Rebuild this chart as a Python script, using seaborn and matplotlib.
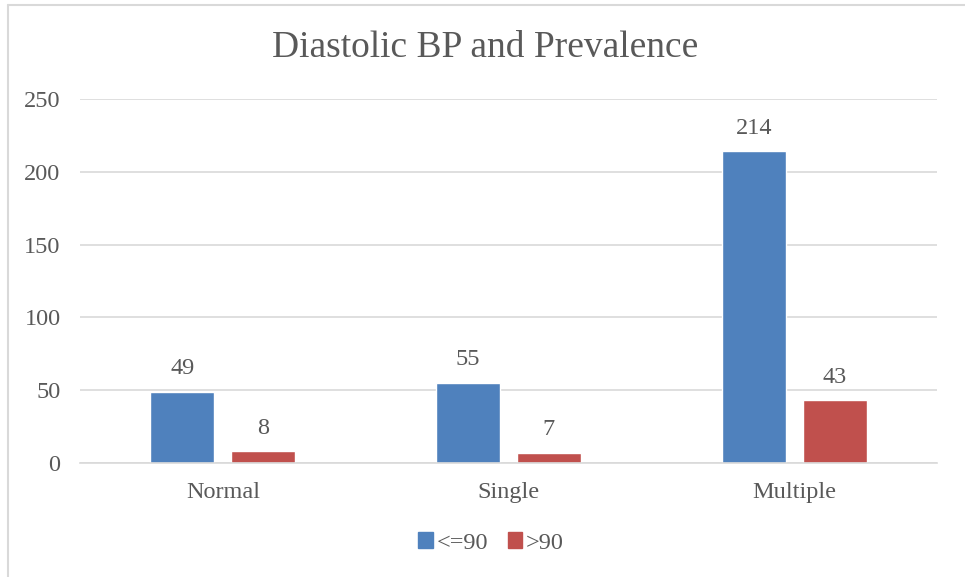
import matplotlib
matplotlib.use('Agg')
import matplotlib.pyplot as plt
from matplotlib.lines import Line2D
import pandas as pd
import seaborn as sns

# chart data
categories = ['Normal', 'Single', 'Multiple']
groups = ['<=90', '>90']
le_90 = [49, 55, 214]
gt_90 = [8, 7, 43]

df = pd.DataFrame({
    'category': categories * 2,
    'group': [groups[0]] * 3 + [groups[1]] * 3,
    'count': le_90 + gt_90,
})

sns.set_theme(style='white')
plt.rcParams['font.family'] = ['Liberation Serif', 'DejaVu Serif']
text_color = '#595959'
grid_color = '#D9D9D9'
palette = {'<=90': '#4F81BD', '>90': '#C0504D'}
fs = 17.5

fig = plt.figure(figsize=(9.65, 5.77), dpi=100)
ax = fig.add_axes([80 / 965, 1 - 463 / 577, 857 / 965, 364 / 577])

sns.barplot(data=df, x='category', y='count', hue='group', order=categories,
            hue_order=groups, palette=palette, width=0.567, gap=0.21,
            saturation=1, ax=ax, legend=False)

ax.set_ylim(0, 250)
ax.set_yticks(range(0, 251, 50))
ax.set_xlim(-0.5, 2.5)
ax.yaxis.grid(True, color=grid_color, lw=1.2)
ax.set_axisbelow(True)
for side in ['top', 'right', 'left']:
    ax.spines[side].set_visible(False)
ax.spines['bottom'].set_color(grid_color)
ax.spines['bottom'].set_linewidth(1.2)
ax.set_xlabel('')
ax.set_ylabel('')
ax.tick_params(axis='both', length=0, labelsize=fs, labelcolor=text_color)
ax.tick_params(axis='y', pad=14)
ax.tick_params(axis='x', pad=14)

for container in ax.containers:
    ax.bar_label(container, fmt='%d', padding=9, fontsize=fs, color=text_color)

fig.text(0.503, 0.918, 'Diastolic BP and Prevalence', ha='center', va='center',
         fontsize=27, color=text_color)

handles = [plt.Rectangle((0, 0), 1, 1, color=palette[g]) for g in groups]
fig.legend(handles, groups, loc='center', bbox_to_anchor=(491 / 965, 1 - 543 / 577),
           ncol=2, frameon=False, fontsize=fs, labelcolor=text_color,
           handlelength=0.6, handleheight=0.6, handletextpad=0.15, columnspacing=0.8)

# light chart-area border (left and top edges visible)
fig.add_artist(Line2D([7.5 / 965, 7.5 / 965], [0, 1 - 4.5 / 577], color='#D9D9D9', lw=1.5))
fig.add_artist(Line2D([7.5 / 965, 1], [1 - 4.5 / 577, 1 - 4.5 / 577], color='#D9D9D9', lw=1.5))

fig.savefig('out.png', dpi=100)
